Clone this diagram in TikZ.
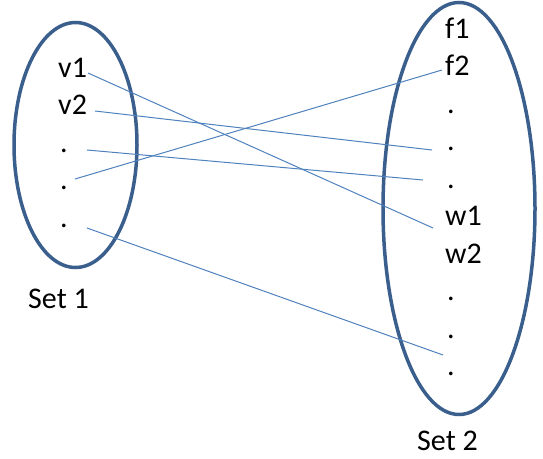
\documentclass[tikz,border=0pt]{standalone}
\usepackage{fontspec}
\setmainfont{Carlito}
\definecolor{setblue}{HTML}{3A5F8D}
\definecolor{linkblue}{HTML}{4F81BD}
\begin{document}
\begin{tikzpicture}[x=1pt,y=-1pt,
  setring/.style={draw=setblue,line width=3.5pt},
  lbl/.style={anchor=base west,inner sep=0pt,font=\fontsize{30}{35}\selectfont},
  link/.style={draw=linkblue,line width=1pt}]
\useasboundingbox (0,0) rectangle (543,458);
% sets
\draw[setring] (75.5,145) ellipse [x radius=61.5, y radius=122.5];
\draw[setring] (459,208.5) ellipse [x radius=76, y radius=206];
% left labels
\node[lbl] (v1) at (58,77) {v1};
\node[lbl] (v2) at (58,114.5) {v2};
\node[lbl] (l3) at (60,152) {.};
\node[lbl] (l4) at (60,189.5) {.};
\node[lbl] (l5) at (60,227) {.};
\node[lbl] (s1) at (28,308) {Set\ 1};
% right labels
\node[lbl] (f1) at (445,38) {f1};
\node[lbl] (f2) at (445,75.5) {f2};
\node[lbl] (r3) at (447,113) {.};
\node[lbl] (r4) at (447,150.5) {.};
\node[lbl] (r5) at (447,188) {.};
\node[lbl] (w1) at (445,225.5) {w1};
\node[lbl] (w2) at (445,263) {w2};
\node[lbl] (r8) at (447,300.5) {.};
\node[lbl] (r9) at (447,338) {.};
\node[lbl] (r10) at (447,375.5) {.};
\node[lbl] (s2) at (417,450) {Set\ 2};
% connector ends
\coordinate (a1) at (88,73);   \coordinate (b1) at (433,228);
\coordinate (a2) at (95,111);  \coordinate (b2) at (432,150);
\coordinate (a3) at (87,150);  \coordinate (b3) at (423,180);
\coordinate (a4) at (75,179);  \coordinate (b4) at (442,70);
\coordinate (a5) at (87,228);  \coordinate (b5) at (443,355);
\draw[link] (a1) -- (b1);
\draw[link] (a2) -- (b2);
\draw[link] (a3) -- (b3);
\draw[link] (a4) -- (b4);
\draw[link] (a5) -- (b5);
\end{tikzpicture}
\end{document}
